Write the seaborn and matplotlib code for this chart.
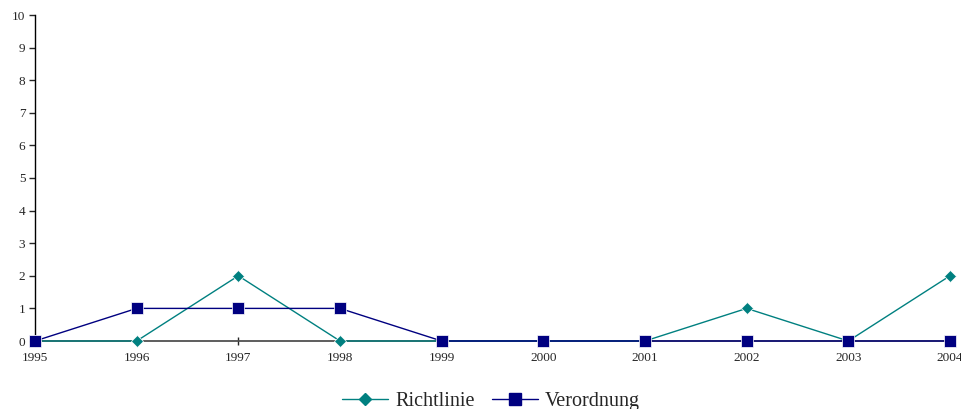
import matplotlib
matplotlib.use("Agg")
import matplotlib.pyplot as plt
import seaborn as sns
import pandas as pd

years = [1995, 1996, 1997, 1998, 1999, 2000, 2001, 2002, 2003, 2004]
richtlinie = [0, 0, 2, 0, 0, 0, 0, 1, 0, 2]
verordnung = [0, 1, 1, 1, 0, 0, 0, 0, 0, 0]
series_names = ["Richtlinie", "Verordnung"]
colors = ["#008080", "#000080"]

df = pd.DataFrame({
    "Jahr": years * 2,
    "Wert": richtlinie + verordnung,
    "Serie": [series_names[0]] * len(years) + [series_names[1]] * len(years),
})

sns.set_style("white")
plt.rcParams["font.family"] = ["Liberation Serif", "DejaVu Serif"]

fig = plt.figure(figsize=(9.62, 4.09), dpi=100)
ax = fig.add_axes([35/962, 1-341/409, (950-35)/962, (341-15)/409])

sns.lineplot(data=df, x="Jahr", y="Wert", hue="Serie", style="Serie",
             palette=dict(zip(series_names, colors)),
             markers={"Richtlinie": "D", "Verordnung": "s"},
             dashes=False, markersize=7, linewidth=1, ax=ax, legend=False,
             clip_on=False, zorder=3)
for line in ax.lines:
    if line.get_marker() == "D":
        line.set_markersize(6)
    else:
        line.set_markersize(9)
    line.set_markeredgewidth(0.5)
    line.set_clip_on(False)

ax.set_xlim(1995, 2004)
ax.set_ylim(0, 10)
ax.set_xticks(years)
ax.set_xticklabels([str(y) for y in years])
ax.set_yticks(range(0, 11))
ax.set_xlabel("")
ax.set_ylabel("")
for s in ["top", "right"]:
    ax.spines[s].set_visible(False)
ax.spines["left"].set_color("black")
ax.spines["bottom"].set_color("#505050")
ax.spines["left"].set_linewidth(1)
ax.spines["bottom"].set_linewidth(1.3)
ax.tick_params(axis="y", direction="out", length=4, width=1, labelsize=9.5, pad=3, left=True)
ax.tick_params(axis="x", direction="inout", length=6, width=1, labelsize=9.5, pad=5, bottom=True)

from matplotlib.lines import Line2D
handles = [Line2D([], [], color=colors[0], marker="D", markersize=6, linewidth=1),
           Line2D([], [], color=colors[1], marker="s", markersize=8, linewidth=1)]
fig.legend(handles, series_names, loc="center", bbox_to_anchor=(491/962, 1-401/409),
           ncol=2, frameon=False, fontsize=14.5, handlelength=2.3, columnspacing=0.85,
           handletextpad=0.35)

fig.savefig("out.png", dpi=100)
